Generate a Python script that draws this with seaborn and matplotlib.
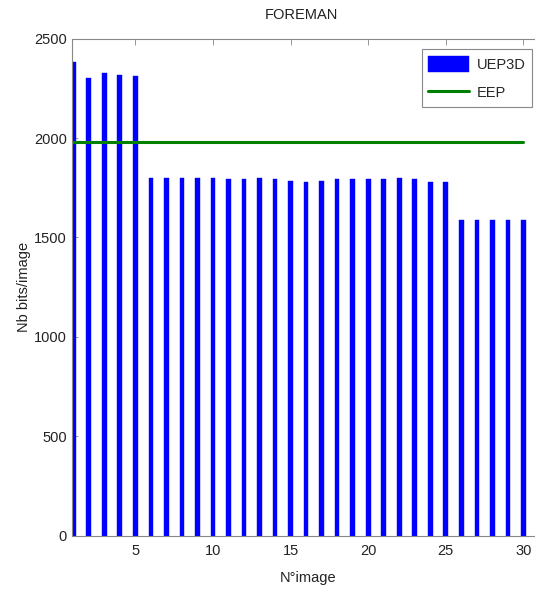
import numpy as np
import pandas as pd
import matplotlib
matplotlib.use('Agg')
import matplotlib.pyplot as plt
import seaborn as sns

# values
images = list(range(1, 31))
uep3d_bits = [2384, 2304, 2326, 2319, 2311, 1798, 1798, 1798, 1798, 1798,
              1793, 1793, 1798, 1793, 1786, 1778, 1786, 1793, 1793, 1793,
              1793, 1799, 1793, 1778, 1778, 1588, 1588, 1588, 1588, 1588]
eep_x = [1, 30]
eep_bits = [1980, 1980]
y_ticks = [0, 500, 1000, 1500, 2000, 2500]
x_ticks = [5, 10, 15, 20, 25, 30]

sns.set_style('ticks')
plt.rcParams['font.family'] = ['Liberation Sans', 'DejaVu Sans']
plt.rcParams['xtick.direction'] = 'in'
plt.rcParams['ytick.direction'] = 'in'

df = pd.DataFrame({'image': images, 'bits': uep3d_bits})

fig = plt.figure(figsize=(5.35, 5.89), dpi=100)
# right edge of the box runs past the canvas, as in the original
ax = fig.add_axes([0.134, 0.0905, 0.885, 0.844])

sns.barplot(data=df, x='image', y='bits', native_scale=True, width=0.3,
            color='#0000ff', saturation=1, edgecolor='#0000ee', linewidth=0.3,
            label='UEP3D', ax=ax)
sns.lineplot(x=eep_x, y=eep_bits, color='#008000', linewidth=2.2, label='EEP', ax=ax)

ax.set_xlim(0.9, 31.4)
ax.set_ylim(0, 2500)
ax.set_xticks(x_ticks)
ax.set_yticks(y_ticks)
ax.tick_params(labelsize=10.5, colors='#222222', length=4, width=0.6,
               top=True, right=True)
ax.tick_params(axis='both', color='#888888')
ax.tick_params(axis='x', pad=6)
for s in ax.spines.values():
    s.set_color('#888888')
    s.set_linewidth(0.8)

ax.set_title('FOREMAN', fontsize=10.5, color='#222222', pad=14, x=0.486)
ax.set_xlabel('N°image', fontsize=10.5, color='#222222', labelpad=9)
ax.set_ylabel('Nb bits/image', fontsize=10.5, color='#222222', labelpad=2)

handles, labels = ax.get_legend_handles_labels()
order = [labels.index('UEP3D'), labels.index('EEP')]
leg = ax.legend([handles[i] for i in order], [labels[i] for i in order],
                loc='upper right', bbox_to_anchor=(532 / 535, 1 - 49 / 589),
                bbox_transform=fig.transFigure, borderaxespad=0, fontsize=10.5,
                fancybox=False, framealpha=1, edgecolor='#888888',
                handlelength=2.8, handleheight=1.4, borderpad=0.45,
                labelspacing=0.8, handletextpad=0.5)
leg.get_frame().set_linewidth(0.8)

fig.savefig('out.png', dpi=100)
